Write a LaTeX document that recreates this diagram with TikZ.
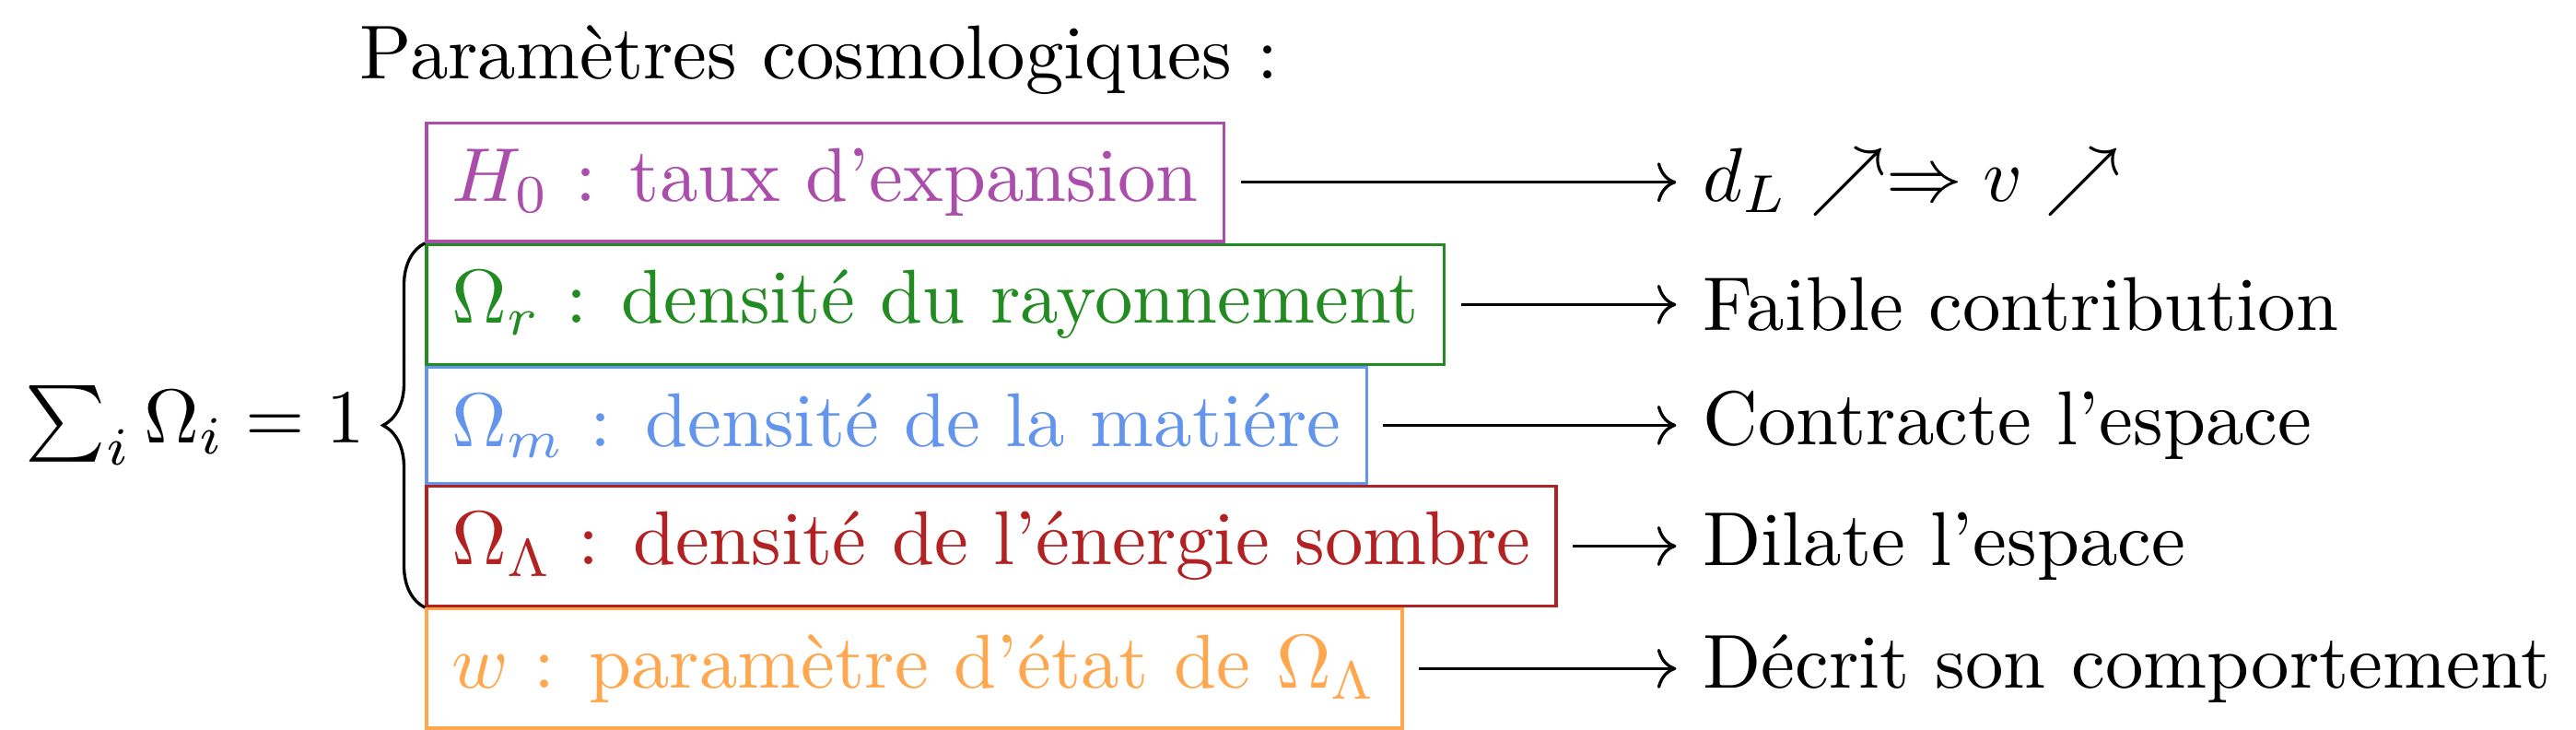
\documentclass[tikz,border=0pt]{standalone}
\usepackage{fontspec}
\usepackage{amsmath}
\usepackage{amssymb}
\usepackage{xcolor}
\usetikzlibrary{arrows.meta,positioning,decorations.pathreplacing,calc}

\definecolor{hubble}{RGB}{171,78,171}
\definecolor{radiation}{RGB}{34,139,34}
\definecolor{matter}{RGB}{100,149,237}
\definecolor{darkenergy}{RGB}{178,34,34}
\definecolor{eqstate}{RGB}{255,167,79}

\begin{document}
\begin{tikzpicture}[
    >={Computer Modern Rightarrow},
    param/.style={draw=#1, text=#1, anchor=north west},
    effect/.style={anchor=west},
    flow/.style={->, shorten <=2pt},
  ]
    % --- parameter boxes, stacked ---------------------------------------
    \node[param=hubble, anchor=west] (h0) at (0,0) {$H_0$ : taux d'expansion};
    \node[param=radiation, below=0pt of h0.south west, anchor=north west] (rad)
      {$\Omega_r$ : densité du rayonnement};
    \node[param=matter, below=0pt of rad.south west, anchor=north west] (mat)
      {$\Omega_m$ : densité de la matiére};
    \node[param=darkenergy, below=0pt of mat.south west, anchor=north west] (lam)
      {$\Omega_\Lambda$ : densité de l'énergie sombre};
    \node[param=eqstate, below=0pt of lam.south west, anchor=north west] (w)
      {$w$ : paramètre d'état de $\Omega_\Lambda$};

    \node[above=0pt of h0, xshift=-0.8pt] (title) {Paramètres cosmologiques :};

    % --- brace and closure relation -------------------------------------
    \draw[decorate, decoration={brace, amplitude=5.5pt}]
      (lam.south west) -- (rad.north west);
    \coordinate (tip) at ($(rad.north west)!0.5!(lam.south west)+(-5.5pt,0)$);
    \node[left=-1.1pt of tip] (sum) {$\sum_i \Omega_i = 1$};

    % --- effects ----------------------------------------------------------
    \coordinate (col) at (164pt,0);
    \node[effect] (e1) at (h0 -| col) {$d_L \nearrow \Rightarrow v \nearrow$};
    \node[effect] (e2) at (rad -| col) {Faible contribution};
    \node[effect] (e3) at (mat -| col) {Contracte l'espace};
    \node[effect] (e4) at (lam -| col) {Dilate l'espace};
    \node[effect] (e5) at (w -| col) {Décrit son comportement};

    \draw[flow] (h0) -- (e1);
    \draw[flow] (rad) -- (e2);
    \draw[flow] (mat) -- (e3);
    \draw[flow] (lam) -- (e4);
    \draw[flow] (w) -- (e5);
  \end{tikzpicture}
\end{document}
